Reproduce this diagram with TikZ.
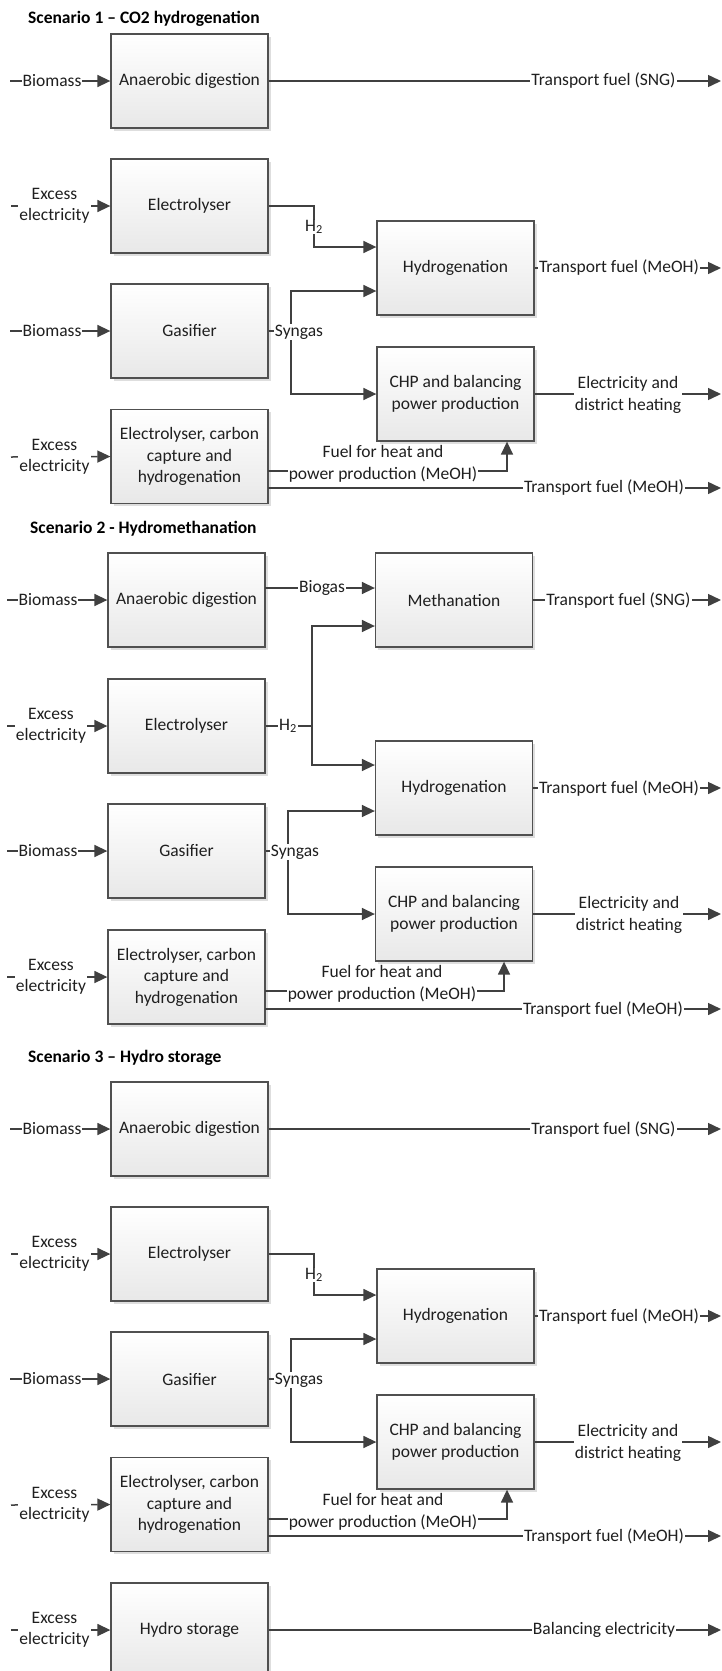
\documentclass[tikz,border=0pt]{standalone}
\usepackage{fontspec}
\setmainfont{Carlito}
\usetikzlibrary{arrows.meta,shadows}
\definecolor{ln}{HTML}{404040}
\definecolor{bd}{HTML}{505050}
\newcommand\fs{\fontsize{17.5pt}{21.5pt}\selectfont}
\tikzset{
  box/.style={draw=bd, line width=1.3pt, minimum width=157pt, minimum height=94pt,
    inner sep=2pt, align=center, top color=white, bottom color=black!9,
    drop shadow={shadow xshift=2.5pt, shadow yshift=-2.5pt, fill=black, opacity=0.13},
    text=black!88, font=\fs},
  conn/.style={draw=ln, line width=1.5pt},
  arr/.style={conn, -{Triangle[length=13pt,width=12pt]}},
  lbl/.style={fill=white, inner xsep=1pt, inner ysep=0.5pt, align=center, font=\fs, text=black!88},
  ttl/.style={anchor=west, font=\fs\bfseries, inner sep=0pt, text=black},
}
\newcommand\scenA[2]{%
\begin{scope}[yshift=-#2pt]
  % boxes
  \node[box] (ad#1)  at (189.5,81)    {Anaerobic digestion};
  \node[box] (el#1)  at (189.5,206)   {Electrolyser};
  \node[box] (hy#1)  at (455.5,268)   {Hydrogenation};
  \node[box] (ga#1)  at (189.5,331)   {Gasifier};
  \node[box] (chp#1) at (455.5,394)   {CHP and balancing\\power production};
  \node[box] (ech#1) at (189.5,456.5) {Electrolyser, carbon\\capture and\\hydrogenation};
  % free ends and bends
  \coordinate (bmA#1) at (10,81);   \coordinate (outA#1) at (721,81);
  \coordinate (exB#1) at (11,206);
  \coordinate (h2a#1) at (314,206); \coordinate (h2b#1) at (314,247);
  \coordinate (hyo#1) at (721,268);
  \coordinate (bmC#1) at (10,331);
  \coordinate (sgA#1) at (291,331); \coordinate (sgT#1) at (291,291); \coordinate (sgB#1) at (291,394);
  \coordinate (cho#1) at (721,394);
  \coordinate (exD#1) at (11,457);
  \coordinate (fA#1) at (268,471);  \coordinate (fB#1) at (507,471);
  \coordinate (tA#1) at (268,488);  \coordinate (tB#1) at (721,488);
  % connectors
  \draw[arr] (bmA#1) -- (ad#1.west);
  \draw[arr] (ad#1.east) -- (outA#1);
  \draw[arr] (exB#1) -- (el#1.west);
  \draw[arr] (el#1.east) -- (h2a#1) -- (h2b#1) -- (hy#1.west |- h2b#1);
  \draw[arr] (hy#1.east) -- (hyo#1);
  \draw[arr] (bmC#1) -- (ga#1.west);
  \draw[conn] (ga#1.east) -- (sgA#1);
  \draw[arr] (sgA#1) -- (sgT#1) -- (hy#1.west |- sgT#1);
  \draw[arr] (sgA#1) -- (sgB#1) -- (chp#1.west);
  \draw[arr] (chp#1.east) -- (cho#1);
  \draw[arr] (exD#1) -- (ech#1.west);
  \draw[arr] (fA#1) -- (fB#1) -- (fB#1 |- chp#1.south);
  \draw[arr] (tA#1) -- (tB#1);
  % labels
  \node[lbl] (lbm#1)  at (52,81)    {Biomass};
  \node[lbl] (lsng#1) at (603.5,81) {Transport fuel (SNG)};
  \node[lbl] (lexb#1) at (54.5,206) {Excess\\electricity};
  \node[lbl] (lh#1)   at (314,227)  {H\textsubscript{2}};
  \node[lbl] (lmh#1)  at (619,268)  {Transport fuel (MeOH)};
  \node[lbl] (lbc#1)  at (52,331)   {Biomass};
  \node[lbl] (lsy#1)  at (299,332)  {Syngas};
  \node[lbl] (led#1)  at (628,395)  {Electricity and\\district heating};
  \node[lbl] (lexd#1) at (54.5,457) {Excess\\electricity};
  \node[lbl, inner ysep=0pt] (lfu#1) at (383,464) {Fuel for heat and\\power production (MeOH)};
  \node[lbl] (ltm#1)  at (604,488)  {Transport fuel (MeOH)};
\end{scope}}
\begin{document}
\begin{tikzpicture}[x=1pt, y=-1pt]
\useasboundingbox[fill=white] (0,0) rectangle (721,1671);

% ---------------- Scenario 1
\node[ttl] (t1) at (28,19) {Scenario 1 – CO2 hydrogenation};
\scenA{1}{0}

% ---------------- Scenario 2
\node[ttl] (t2) at (30,529) {Scenario 2 - Hydromethanation};
\node[box] (ad2)  at (186.5,600) {Anaerobic digestion};
\node[box] (me2)  at (454,600)   {Methanation};
\node[box] (el2)  at (186.5,726) {Electrolyser};
\node[box] (hy2)  at (454,788)   {Hydrogenation};
\node[box] (ga2)  at (186.5,851) {Gasifier};
\node[box] (chp2) at (454,914)   {CHP and balancing\\power production};
\node[box] (ech2) at (186.5,977) {Electrolyser, carbon\\capture and\\hydrogenation};
\coordinate (bmA2) at (7,600);
\coordinate (bg2) at (265,588);
\coordinate (meo2) at (721,600);
\coordinate (exB2) at (7,726);
\coordinate (h2a2) at (312,726); \coordinate (h2t2) at (312,626); \coordinate (h2b2) at (312,765);
\coordinate (hyo2) at (721,788);
\coordinate (bmC2) at (7,851);
\coordinate (sgA2) at (288,851); \coordinate (sgT2) at (288,811); \coordinate (sgB2) at (288,914);
\coordinate (cho2) at (721,914);
\coordinate (exD2) at (7,977);
\coordinate (fA2) at (265,991); \coordinate (fB2) at (504,991);
\coordinate (tA2) at (265,1009); \coordinate (tB2) at (721,1009);
\draw[arr] (bmA2) -- (ad2.west);
\draw[arr] (bg2) -- (me2.west |- bg2);
\draw[arr] (me2.east) -- (meo2);
\draw[arr] (exB2) -- (el2.west);
\draw[conn] (el2.east) -- (h2a2);
\draw[arr] (h2a2) -- (h2t2) -- (me2.west |- h2t2);
\draw[arr] (h2a2) -- (h2b2) -- (hy2.west |- h2b2);
\draw[arr] (hy2.east) -- (hyo2);
\draw[arr] (bmC2) -- (ga2.west);
\draw[conn] (ga2.east) -- (sgA2);
\draw[arr] (sgA2) -- (sgT2) -- (hy2.west |- sgT2);
\draw[arr] (sgA2) -- (sgB2) -- (chp2.west);
\draw[arr] (chp2.east) -- (cho2);
\draw[arr] (exD2) -- (ech2.west);
\draw[arr] (fA2) -- (fB2) -- (fB2 |- chp2.south);
\draw[arr] (tA2) -- (tB2);
\node[lbl] (lbm2)  at (48,600)    {Biomass};
\node[lbl] (lbg2)  at (322,588)   {Biogas};
\node[lbl] (lsng2) at (618.5,600) {Transport fuel (SNG)};
\node[lbl] (lexb2) at (51,726)    {Excess\\electricity};
\node[lbl] (lh2)   at (288,726)   {H\textsubscript{2}};
\node[lbl] (lmh2)  at (619,788)   {Transport fuel (MeOH)};
\node[lbl] (lbc2)  at (48,851)    {Biomass};
\node[lbl] (lsy2)  at (295,852)   {Syngas};
\node[lbl] (led2)  at (629,915)   {Electricity and\\district heating};
\node[lbl] (lexd2) at (51,977)    {Excess\\electricity};
\node[lbl, inner ysep=0pt] (lfu2) at (382,984) {Fuel for heat and\\power production (MeOH)};
\node[lbl] (ltm2)  at (603,1009)  {Transport fuel (MeOH)};

% ---------------- Scenario 3
\node[ttl] (t3) at (28,1058) {Scenario 3 – Hydro storage};
\scenA{3}{1048}
\node[box] (hs3) at (189.5,1630) {Hydro storage};
\coordinate (exE3) at (11,1630);
\coordinate (hso3) at (721,1630);
\draw[arr] (exE3) -- (hs3.west);
\draw[arr] (hs3.east) -- (hso3);
\node[lbl] (lexe3) at (54.5,1630) {Excess\\electricity};
\node[lbl] (lbal3) at (604,1630)  {Balancing electricity};
\end{tikzpicture}
\end{document}
